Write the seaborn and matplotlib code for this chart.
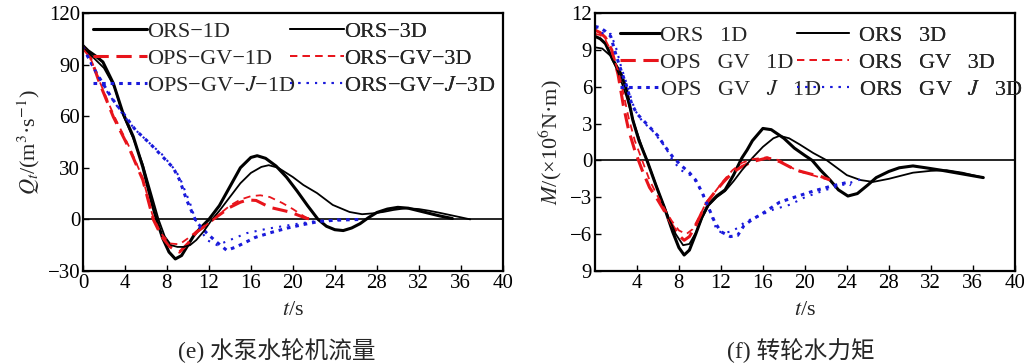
import matplotlib
matplotlib.use("Agg")
import matplotlib.pyplot as plt
import seaborn as sns
import pandas as pd

# ---- (e) pump-turbine discharge ----
q_ors1d_t = [0, 0.5, 1.2, 1.9, 2.9, 3.8, 4.8, 5.7, 6.5, 7.0, 7.6, 8.2, 8.8, 9.4, 10.0, 10.6, 11.2, 12.0, 13.0, 14.0,
             15.0, 16.0, 16.6, 17.4, 18.4, 19.4, 20.4, 21.4, 22.4, 23.2, 24.0, 24.8, 25.6, 26.4, 27.2, 28.0, 29.0,
             30.0, 31.0, 32.0, 33.0, 34.0, 35.2]
q_ors1d = [101, 98, 95, 91.5, 79, 62, 48, 30.5, 11, 0, -11, -19, -23, -21, -15, -9, -5, 0, 8, 19,
           30, 36, 37, 35.5, 31, 24.5, 16.5, 8, 0, -4, -6, -6.5, -5, -2.5, 1, 4, 6,
           7, 6.5, 5, 3.5, 2, 0.5]

q_ors3d_t = [0, 1, 2, 3, 3.8, 4.8, 5.7, 6.5, 7.2, 7.8, 8.4, 9.0, 9.6, 10.2, 10.8, 11.5, 12.3, 13, 14, 15, 16, 17,
             17.7, 18.6, 20, 21, 22.3, 23.8, 25.4, 26.6, 27.6, 28.6, 29.6, 30.8, 32, 33, 34, 35, 36, 36.9]
q_ors3d = [100, 94, 88, 77, 61, 47, 32, 15, 0, -10, -15, -16, -16, -15, -12, -7, 0, 5, 13, 21, 27, 30.5,
           31.5, 30, 24.6, 20, 15.3, 8.4, 4.3, 3, 3.5, 4.3, 5.5, 6.5, 6, 5, 3.8, 2.5, 1.2, 0]

q_gv1d_t = [0, 0.7, 1.6, 2.9, 4.5, 5.7, 6.7, 7.5, 8.3, 9.2, 10.0, 10.8, 11.6, 12.4, 13.2, 14.0, 15.0, 15.7, 16.5,
            17.8, 19.7, 21.3, 22.0]
q_gv1d = [100, 94.5, 79, 59.5, 40, 23, 0, -10, -16, -19, -14, -7.5, -4, 0, 3.5, 7, 10, 11.3, 11,
          7, 4.3, 0.6, 0]

q_gv3d_t = [0, 0.7, 1.6, 2.9, 4.5, 5.7, 6.6, 7.4, 8.3, 9.2, 10.0, 10.8, 11.6, 12.4, 13.2, 14.0, 15.0, 16.0, 16.9,
            17.8, 19.0, 20.0, 21.0, 21.6]
q_gv3d = [99, 94, 80, 61, 41, 24, 3, -8, -14, -14.5, -11, -7, -4, 0, 4, 8, 11.5, 13.5, 14,
          13, 9.5, 6, 2, 0]

q_gvj1d_t = [0, 0.6, 1.3, 2.0, 2.8, 3.8, 5.0, 6.4, 7.5, 8.6, 9.2, 9.9, 10.8, 11.8, 12.7, 13.7, 14.6, 15.6, 16.4,
             18.0, 19.5, 21.0, 22.5, 24.0, 25.5, 26.7]
q_gvj1d = [100, 93, 85, 78, 70, 62, 52, 44, 37, 30, 23, 11, -1.5, -8, -13, -18, -16, -13, -10.5,
           -7.5, -5, -3, -1.2, -0.5, -0.2, 0]

q_gvj3d_t = [0, 1, 2, 3, 3.8, 5, 6.4, 7.5, 8.6, 9.2, 9.7, 10.2, 10.7, 11.2, 11.8, 12.8, 14.0, 15.6, 17.5, 19.0,
             20.5, 22.0, 23.5, 24.5]
q_gvj3d = [100, 88, 77, 68, 61, 52, 44, 38, 30, 24.7, 17, 9.5, 0, -6, -12, -15, -12, -8, -5.5, -4,
           -2.5, -1.2, -0.4, 0]

# ---- (f) runner torque ----
m_ors1d_t = [0, 0.5, 1, 1.7, 2.5, 3, 3.6, 4.2, 5, 5.8, 6.6, 7.4, 8.0, 8.5, 9.0, 9.6, 10.2, 10.8, 11.6, 12.4, 13.2,
             14, 14.5, 15, 16, 16.8, 18, 19, 20, 20.7, 21.5, 22.4, 23.2, 24.1, 25, 26, 26.8, 28, 29, 30.3, 31.5,
             33, 35, 37]
m_ors1d = [10.1, 9.9, 9.5, 8.2, 7.0, 5.8, 3.3, 1.6, -0.1, -2, -3.8, -5.8, -7.1, -7.7, -7.3, -6, -4.6, -3.6, -2.9,
           -2.4, -1.2, 0.2, 0.85, 1.6, 2.6, 2.5, 1.8, 1.0, 0.4, 0, -0.8, -1.6, -2.4, -2.9, -2.7, -2.0, -1.4,
           -0.9, -0.6, -0.45, -0.6, -0.8, -1.1, -1.4]

m_ors3d_t = [0, 0.7, 1.5, 2.2, 3, 3.8, 4.6, 5.4, 6.2, 7, 7.7, 8.4, 9, 9.6, 10.2, 10.8, 11.6, 12.4, 13.2, 14, 15,
             16, 17, 17.6, 18.5, 19.5, 20.8, 22.1, 24, 25.3, 26.5, 28, 30.3, 32, 33.5, 35, 37]
m_ors3d = [9.2, 9.1, 8.5, 7.2, 5.2, 2.8, 0.8, -1, -2.9, -4.6, -6.0, -6.9, -6.8, -5.9, -4.7, -3.7, -3, -2.5, -1.7,
           -0.8, 0.2, 1.1, 1.8, 2.0, 1.8, 1.3, 0.6, 0, -1.2, -1.6, -1.75, -1.5, -1.0, -0.85, -0.8, -1.0, -1.4]

m_gv1d_t = [0, 0.5, 1, 1.6, 2.2, 2.7, 3.2, 3.8, 4.5, 5.2, 5.9, 6.6, 7.3, 8.0, 8.5, 9.0, 9.6, 10.2, 10.6, 11.4,
            12.2, 13.1, 14, 15, 16.4, 17.6, 18.5, 19.2, 20.5, 21.5, 22.4]
m_gv1d = [10.6, 10.4, 10, 9, 7, 4.5, 2.5, 0.8, -0.8, -2.2, -3.1, -4.1, -5.2, -6.1, -6.5, -6.2, -5.3, -4.2, -3.5,
          -2.6, -1.8, -1.0, -0.5, -0.1, 0.2, -0.1, -0.5, -0.8, -1.1, -1.3, -1.6]

m_gv3d_t = [0, 0.5, 1, 1.6, 2.2, 2.7, 3.2, 3.8, 4.5, 5.2, 5.9, 6.6, 7.3, 8.0, 8.7, 9.3, 10, 10.6, 11.4, 12.2,
            13.1, 14, 15, 16.4, 17.6, 18.5, 19.5, 20.5, 21.5, 22.2]
m_gv3d = [10.3, 10.2, 9.8, 8.8, 7.3, 5.5, 3.5, 1.6, 0, -1.6, -2.8, -3.9, -4.9, -5.7, -6.0, -5.6, -4.5, -3.4,
          -2.6, -1.7, -0.8, -0.2, 0.1, 0.25, 0, -0.5, -0.9, -1.15, -1.4, -1.55]

m_gvj1d_t = [0, 0.5, 1, 1.5, 2, 2.5, 3, 3.5, 4, 5, 6, 6.7, 7.4, 8.2, 9.0, 9.6, 10.2, 10.8, 11.4, 12.0, 12.9, 13.6,
             14.2, 15.0, 16.0, 17.6, 19, 20.8, 22.5, 24.0, 24.4]
m_gvj1d = [10.9, 10.8, 10.5, 10.1, 8.6, 7.3, 6.1, 4.6, 3.8, 2.9, 2.0, 1.1, 0.3, -0.4, -1.0, -1.6, -2.6, -3.8,
           -5.0, -5.8, -6.2, -6.1, -5.3, -4.8, -4.3, -3.4, -3.0, -2.5, -2.1, -1.8, -2.0]

m_gvj3d_t = [0, 0.5, 1, 1.5, 2, 2.5, 3, 3.8, 4.5, 5.5, 6.7, 7.4, 8.2, 9.3, 10.0, 10.6, 11.0, 11.6, 12.2, 12.9,
             13.6, 14.3, 15.4, 17, 18.6, 20, 22, 24, 25.5]
m_gvj3d = [10.8, 10.5, 10.2, 10.3, 9.2, 7.6, 6.3, 4.1, 3.2, 2.4, 1.1, 0.0, -0.8, -1.3, -2.3, -3.2, -4.2, -5.7,
           -5.9, -5.8, -5.5, -5.0, -4.6, -4.0, -3.6, -3.0, -2.4, -1.9, -1.5]

labels_e = ["ORS\u22121D", "OPS\u2212GV\u22121D", "OPS\u2212GV\u2212$J$\u22121D",
            "ORS\u22123D", "ORS\u2212GV\u22123D", "ORS\u2212GV\u2212$J$\u22123D"]
labels_f = ["ORS   1D", "OPS   GV   1D", "OPS   GV   $J$   1D",
            "ORS   3D", "ORS   GV   3D", "ORS   GV   $J$   3D"]

styles = [
    dict(color="black", linewidth=2.2, linestyle="-"),
    dict(color="#e8141b", linewidth=2.2, linestyle=(0, (5, 2.5))),
    dict(color="#1a1adb", linewidth=2.2, linestyle=(0, (1.2, 1.6))),
    dict(color="black", linewidth=1.3, linestyle="-"),
    dict(color="#e8141b", linewidth=1.3, linestyle=(0, (4, 3))),
    dict(color="#1a1adb", linewidth=1.5, linestyle=(0, (1, 3))),
]

sns.set_theme(style="white")
plt.rcParams["font.family"] = ["Liberation Serif", "Noto Sans CJK SC"]
plt.rcParams["mathtext.fontset"] = "stix"
plt.rcParams["axes.unicode_minus"] = True

fig = plt.figure(figsize=(10.24, 3.64), dpi=100)
ax1 = fig.add_axes([0.081, 0.2555, 0.410, 0.709])
ax2 = fig.add_axes([0.581, 0.2555, 0.410, 0.709])

series_e = [(q_ors1d_t, q_ors1d), (q_gv1d_t, q_gv1d), (q_gvj1d_t, q_gvj1d),
            (q_ors3d_t, q_ors3d), (q_gv3d_t, q_gv3d), (q_gvj3d_t, q_gvj3d)]
series_f = [(m_ors1d_t, m_ors1d), (m_gv1d_t, m_gv1d), (m_gvj1d_t, m_gvj1d),
            (m_ors3d_t, m_ors3d), (m_gv3d_t, m_gv3d), (m_gvj3d_t, m_gvj3d)]


def draw(ax, series, labels, col_x, top, hlen, hpad):
    ax.axhline(0, color="black", linewidth=1.2, zorder=1)
    handles = []
    for (t, v), lab, st in zip(series, labels, styles):
        df = pd.DataFrame({"t": t, "v": v})
        sns.lineplot(data=df, x="t", y="v", ax=ax, label=lab, **st)
        handles.append(ax.get_lines()[-1])
    if ax.get_legend() is not None:
        ax.get_legend().remove()
    # two separate one-column legends, like the original figure
    for k in range(2):
        leg = ax.legend(handles=handles[3 * k:3 * k + 3], labels=labels[3 * k:3 * k + 3],
                        loc="upper left", bbox_to_anchor=(col_x[k], top), frameon=False,
                        fontsize=16, handlelength=hlen[k], handletextpad=hpad[k],
                        labelspacing=0.3, borderpad=0.0, borderaxespad=0.0)
        ax.add_artist(leg)
    for s in ax.spines.values():
        s.set_color("black")
        s.set_linewidth(1.6)
    ax.tick_params(direction="in", length=4, width=1.0, labelsize=15,
                   colors="black", bottom=True, left=True, pad=2)
    ax.set_xlim(0, 40)
    ax.set_xlabel("$t$/s", fontsize=16, labelpad=6)


draw(ax1, series_e, labels_e, (0.024, 0.493), 0.968, (2.45, 2.45), (0.0, 0.0))
ax1.set_ylim(-30, 120)
ax1.set_xticks(range(0, 41, 4))
ax1.set_yticks(range(-30, 121, 30))
ax1.set_ylabel("$Q_t$/(m$^3$·s$^{-1}$)", fontsize=16, labelpad=4)

draw(ax2, series_f, labels_f, (0.06, 0.481), 0.953, (1.8, 2.35), (0.0, 0.45))
ax2.set_ylim(-9, 12)
ax2.set_xticks(range(4, 41, 4))
ax2.set_yticks(range(-9, 13, 3))
ax2.set_yticklabels(["9", "\u22126", "\u22123", "0", "3", "6", "9", "12"])
ax2.set_ylabel("$M$/(×10$^6$N·m)", fontsize=16, labelpad=4)

fig.text(0.270, 0.038, "(e) 水泵水轮机流量", ha="center", va="center", fontsize=17)
fig.text(0.782, 0.038, "(f) 转轮水力矩", ha="center", va="center", fontsize=17)

fig.savefig("out.png", dpi=100)
